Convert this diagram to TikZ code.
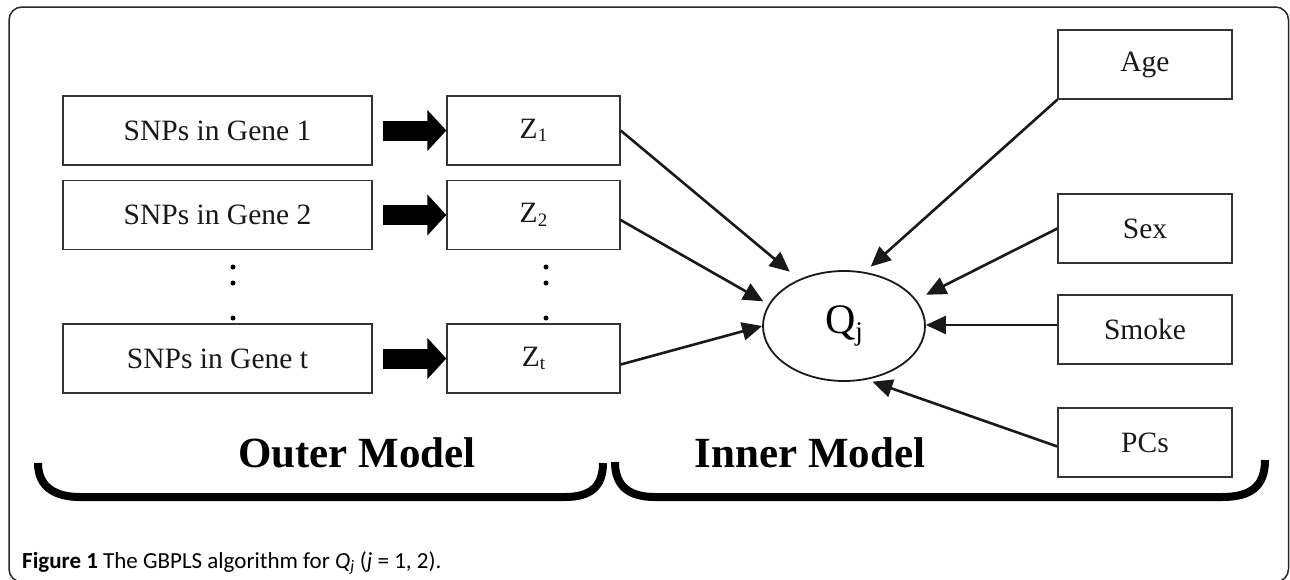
\documentclass[tikz,border=0pt]{standalone}
\usepackage{fontspec}
\setmainfont{Liberation Serif}
\newfontfamily\capfont{Carlito}
\usetikzlibrary{arrows.meta,shapes.geometric}
\begin{document}
\begin{tikzpicture}[x=1pt,y=-1pt,
  box/.style={draw=black!80,line width=1.3pt,minimum height=69pt,inner sep=0pt,
    font=\fontsize{29.5}{31}\selectfont,text=black!90},
  snpbox/.style={box,minimum width=309pt},
  zbox/.style={box,minimum width=173pt},
  covbox/.style={box,minimum width=174pt},
  conn/.style={line width=2.6pt,black!90,-{Triangle[length=20pt,width=18pt]}},
  blockarrow/.style={line width=20pt,black,-{Triangle[length=19pt,width=40pt]}},
  brace/.style={line width=8pt,black},
  dotmark/.style={circle,fill=black,inner sep=0pt,minimum size=5pt},
  modellabel/.style={font=\fontsize{43}{46}\selectfont\bfseries,anchor=base,text=black}
]
\useasboundingbox (0,0) rectangle (1290,579);
\fill[white] (0,0) rectangle (1290,579);
% frame
\draw[line width=1.5pt,black!85,rounded corners=13pt] (9,7) rectangle (1288.5,582);

% left column
\node[snpbox] (snp1) at (217.5,130.5) {SNPs in Gene 1};
\node[snpbox] (snp2) at (217.5,215) {SNPs in Gene 2};
\node[snpbox] (snpt) at (217.5,358.5) {SNPs in Gene t};
% Z column
\def\zsub#1{Z\raisebox{-0.12em}{\fontsize{19}{19}\selectfont #1}}
\node[zbox] (z1) at (533.5,130.5) {\zsub{1}};
\node[zbox] (z2) at (533.5,215) {\zsub{2}};
\node[zbox] (zt) at (533.5,358.5) {\zsub{t}};
% dots
\foreach \x in {233,546}{
  \node[dotmark] at (\x,267) {};
  \node[dotmark] at (\x,283) {};
  \node[dotmark] at (\x,318) {};
}
% block arrows
\draw[blockarrow] ([xshift=10pt]snp1.east) -- (z1.west);
\draw[blockarrow] ([xshift=10pt]snp2.east) -- (z2.west);
\draw[blockarrow] ([xshift=10pt]snpt.east) -- (zt.west);

% ellipse
\node[ellipse,draw=black!90,line width=1.8pt,minimum width=162pt,minimum height=110pt,inner sep=0pt] (q) at (844,326)
  {\fontsize{42}{44}\selectfont Q\raisebox{-0.15em}{\fontsize{27}{27}\selectfont j}};

% covariates
\node[covbox] (age) at (1145,64.5) {Age};
\node[covbox] (sex) at (1145,228.5) {Sex};
\node[covbox] (smoke) at (1145,329.5) {Smoke};
\node[covbox] (pcs) at (1145,442.5) {PCs};

% connector start points
\coordinate (z2s) at ([yshift=-5pt]z2.east);
\coordinate (zts) at ([yshift=-6pt]zt.east);
\coordinate (smks) at ([yshift=4.5pt]smoke.west);
\coordinate (pcss) at ([yshift=-4pt]pcs.west);

% connectors
\draw[conn,shorten >=12pt] (z1.east) -- (q.134.5);
\draw[conn,shorten >=6pt] (z2s) -- (q.164);
\draw[conn] (zts) -- (q.180);
\draw[conn,shorten >=8pt] (age.south west) -- (q.69);
\draw[conn,shorten >=11pt] (sex.west) -- (q.20);
\draw[conn] (smks) -- (q.east |- smks);
\draw[conn,shorten >=6pt] (pcss) -- (q.293);

% braces
\draw[brace] (38,463) .. controls (38,487) and (55,497) .. (80,497) -- (565,497) .. controls (590,497) and (603,487) .. (603,463);
\draw[brace] (615,462) .. controls (615,487) and (630,497) .. (655,497) -- (1222,497) .. controls (1250,497) and (1265,487) .. (1265,460);
\node[modellabel] (outer) at (357,467) {Outer Model};
\node[modellabel] (inner) at (810,467) {Inner Model};

% caption
\node[anchor=base west,inner sep=0pt,font=\capfont\fontsize{23}{25}\selectfont] (cap) at (22,568)
  {\textbf{Figure 1} The GBPLS algorithm for \textit{Q\textsubscript{j}} (\textit{j} = 1, 2).};
\end{tikzpicture}
\end{document}
